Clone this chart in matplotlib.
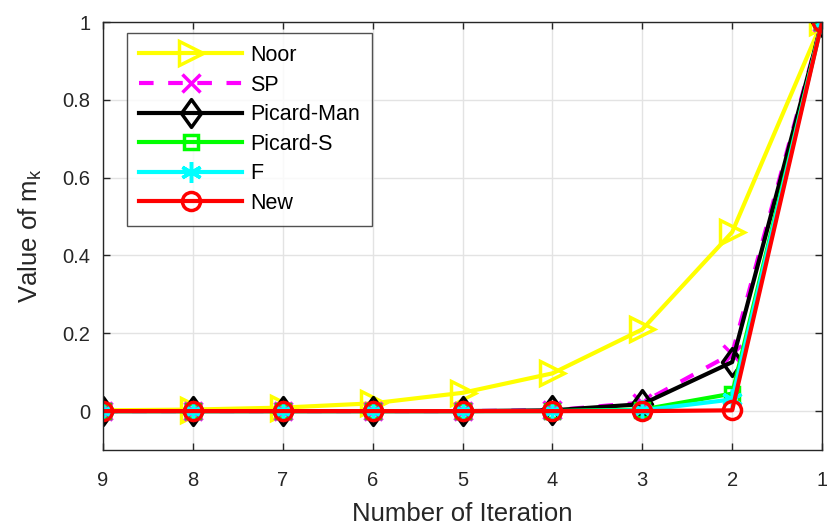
import matplotlib
import numpy as np
from matplotlib.path import Path

matplotlib.use("Agg")
import matplotlib.pyplot as plt

plt.rcParams["font.family"] = ["Liberation Sans", "DejaVu Sans"]

iterations = [9, 8, 7, 6, 5, 4, 3, 2, 1]
noor = [0.002, 0.004, 0.009, 0.02, 0.047, 0.097, 0.21, 0.46, 1.0]
sp = [0.0, 0.0, 0.0, 0.0, 0.0, 0.002, 0.022, 0.148, 1.0]
picard_man = [0.0, 0.0, 0.0, 0.0, 0.0, 0.002, 0.018, 0.126, 1.0]
picard_s = [0.0, 0.0, 0.0, 0.0, 0.0, 0.0, 0.004, 0.045, 1.0]
f_iter = [0.0, 0.0, 0.0, 0.0, 0.0, 0.0, 0.002, 0.03, 1.0]
new = [0.0, 0.0, 0.0, 0.0, 0.0, 0.0, 0.0, 0.002, 1.0]

# matlab-ish narrow diamond
diamond = Path([(0, 1), (0.72, 0), (0, -1), (-0.72, 0), (0, 1)],
               [Path.MOVETO, Path.LINETO, Path.LINETO, Path.LINETO, Path.CLOSEPOLY])

series = [
    ("Noor", noor, "#ffff00", "-", ">", 17),
    ("SP", sp, "#ff00ff", "--", "x", 13),
    ("Picard-Man", picard_man, "#000000", "-", diamond, 20),
    ("Picard-S", picard_s, "#00ff00", "-", "s", 10),
    ("F", f_iter, "#00ffff", "-", (6, 2, 0), 15),
    ("New", new, "#ff0000", "-", "o", 13),
]

fig = plt.figure(figsize=(8.28, 5.29), dpi=100)
ax = fig.add_axes([0.1244, 0.1493, 0.8684, 0.8091])

for label, vals, color, ls, marker, ms in series:
    kw = {"dashes": (3.5, 3.5)} if ls == "--" else {}
    ax.plot(iterations, vals, color=color, linestyle=ls, linewidth=3,
            marker=marker, markersize=ms, markerfacecolor="none",
            markeredgecolor=color, markeredgewidth=2.5, label=label, **kw)

ax.set_xlim(9, 1)
ax.set_ylim(-0.1, 1)
ax.set_xticks(iterations)
ax.set_yticks([0, 0.2, 0.4, 0.6, 0.8, 1.0])
ax.set_yticklabels(["0", "0.2", "0.4", "0.6", "0.8", "1"])
ax.grid(True, color="#e3e3e3", linewidth=1)
ax.set_axisbelow(True)
ax.tick_params(direction="in", top=True, right=True, labelsize=14.5,
               length=5, width=1, colors="#262626")
ax.tick_params(axis="x", pad=15)
ax.tick_params(axis="y", pad=9)
for sp_ in ax.spines.values():
    sp_.set_color("#262626")
    sp_.set_linewidth(1)

ax.set_xlabel("Number of Iteration", fontsize=18.5, color="#262626", labelpad=9)
ax.set_ylabel("Value of m$_\\mathregular{k}$", fontsize=18.5, color="#262626",
              labelpad=13)

leg = ax.legend(loc="upper left", bbox_to_anchor=(0.0334, 0.974), borderaxespad=0,
                fontsize=15.5, handlelength=4.8, handletextpad=0.37,
                frameon=True, fancybox=False, edgecolor="#262626",
                borderpad=0.55, labelspacing=0.4)
leg.get_frame().set_linewidth(1)

fig.savefig("out.png", dpi=100)
